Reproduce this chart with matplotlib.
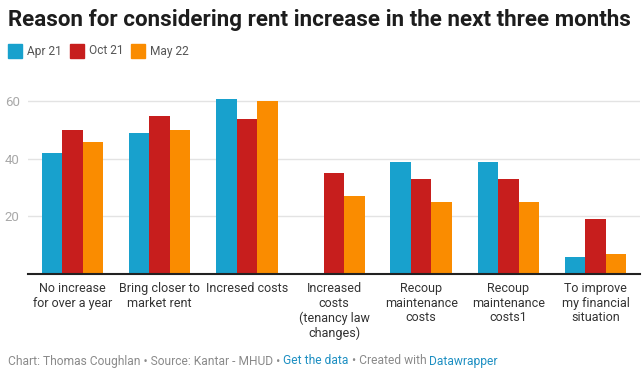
import matplotlib
matplotlib.use("Agg")
import matplotlib.pyplot as plt
import numpy as np

plt.rcParams['font.family'] = ['Roboto', 'DejaVu Sans']

categories = ["No increase\nfor over a year", "Bring closer to\nmarket rent", "Incresed costs",
              "Increased\ncosts\n(tenancy law\nchanges)", "Recoup\nmaintenance\ncosts",
              "Recoup\nmaintenance\ncosts1", "To improve\nmy financial\nsituation"]
series_names = ["Apr 21", "Oct 21", "May 22"]
apr21 = [42, 49, 61, np.nan, 39, 39, 6]
oct21 = [50, 55, 54, 35, 33, 33, 19]
may22 = [46, 50, 60, 27, 25, 25, 7]
colors = ["#18a1cd", "#c71e1d", "#fa8c00"]
y_ticks = [20, 40, 60]

W, H = 642, 374
fig = plt.figure(figsize=(W / 100, H / 100), dpi=100)
ax = fig.add_axes([28 / W, 100 / H, 612 / W, 187 / H])

x = np.arange(len(categories))
width = 0.235
for i, (vals, c) in enumerate(zip([apr21, oct21, may22], colors)):
    ax.bar(x + (i - 1) * width, vals, width, color=c, linewidth=0, zorder=2)

ax.set_xlim(-0.51, len(categories) - 0.49)
ax.set_ylim(0, 65)
ax.set_yticks(y_ticks)
ax.set_yticklabels([str(t) for t in y_ticks], color="#a8a8a8", fontsize=9.5)
ax.grid(axis="y", color="#e3e3e3", linewidth=1, zorder=0)
ax.tick_params(axis="y", length=0, pad=6)
ax.set_xticks(x)
ax.set_xticklabels(categories, fontsize=9, color="#333333", linespacing=1.15, va="top")
ax.tick_params(axis="x", length=0, pad=6)
for s in ["top", "right", "left"]:
    ax.spines[s].set_visible(False)
ax.spines["bottom"].set_color("#222222")
ax.spines["bottom"].set_linewidth(1.5)
ax.spines["bottom"].set_zorder(3)

# title
fig.text(8 / W, 1 - 20 / H, "Reason for considering rent increase in the next three months",
         fontsize=16.1, fontweight="bold", color="#1d1d1d", va="center", ha="left")

# legend
lx = 8
fig.canvas.draw()
renderer = fig.canvas.get_renderer()
for name, c in zip(series_names, colors):
    fig.patches.append(plt.Rectangle((lx / W, 1 - 58 / H), 14 / W, 14 / H,
                                     transform=fig.transFigure, color=c, figure=fig))
    t = fig.text((lx + 19) / W, 1 - 51 / H, name, fontsize=8.6, color="#555555", va="center", ha="left")
    bb = t.get_window_extent(renderer)
    lx = bb.x1 + 8

# footer
pieces = [("Chart: Thomas Coughlan • Source: Kantar - MHUD • ", "#8a8a8a"),
          ("Get the data", "#1d8fc2"),
          (" • Created with ", "#8a8a8a"),
          ("Datawrapper", "#1d8fc2")]
fx = 8
for txt, c in pieces:
    t = fig.text(fx / W, 1 - 361 / H, txt, fontsize=8.65, color=c, va="center", ha="left")
    bb = t.get_window_extent(renderer)
    fx = bb.x1

fig.savefig("out.png", dpi=100)
